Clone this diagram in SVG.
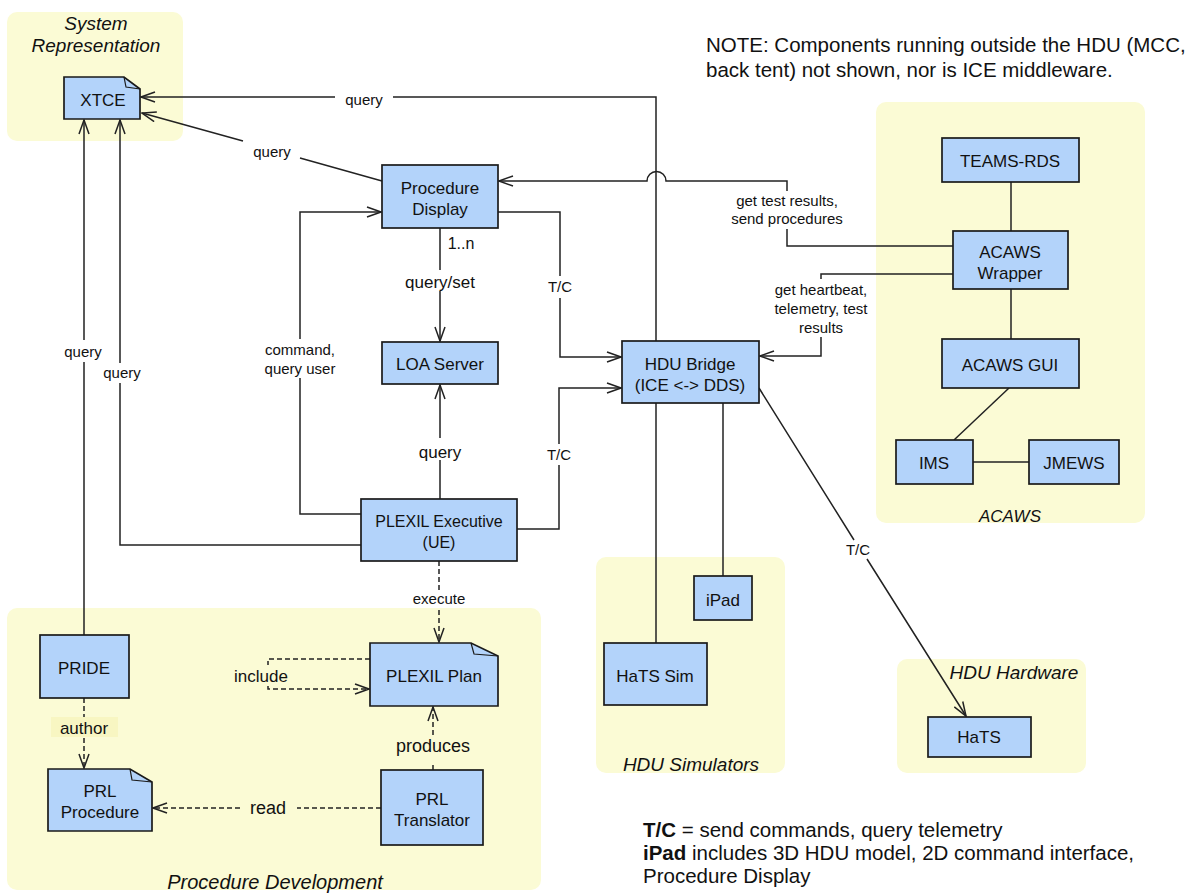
<svg xmlns="http://www.w3.org/2000/svg" width="1190" height="893" viewBox="0 0 1190 893">
<style>
.grp{fill:#fbfbd5}
.node{fill:#b3d3fa;stroke:#1a1a1a;stroke-width:1.7}
.fold{fill:none;stroke:#1a1a1a;stroke-width:1.2}
.t{font-family:"Liberation Sans",Arial,sans-serif;fill:#111;text-anchor:middle}
.n{font-size:17px}
.gl{font-size:19px;font-style:italic}
.l15{font-size:15px}
.l17{font-size:17px}
.l18{font-size:18px}
.note{font-family:"Liberation Sans",Arial,sans-serif;fill:#111;font-size:20.5px}
.c{fill:none;stroke:#222;stroke-width:1.5}
.d{stroke-dasharray:5 3}
</style>
<defs>
<marker id="arr" markerUnits="userSpaceOnUse" viewBox="0 0 16 12" refX="15" refY="6" markerWidth="16" markerHeight="12" orient="auto">
<path d="M1,1 L15,6 L1,11" fill="none" stroke="#222" stroke-width="1.5"/>
</marker>
</defs>

<g id="groups">
<g id="grp-system"><rect class="grp" x="7" y="12" width="176" height="129" rx="10"/>
<text class="t gl" x="96" y="30">System</text><text class="t gl" x="96" y="52">Representation</text></g>
<g id="grp-acaws"><rect class="grp" x="876" y="102" width="269" height="421" rx="10"/>
<text class="t gl" x="1010" y="522" style="font-size:17px">ACAWS</text></g>
<g id="grp-procdev"><rect class="grp" x="7" y="608" width="534" height="282" rx="10"/>
<text class="t gl" x="275" y="889" style="font-size:20px">Procedure Development</text></g>
<g id="grp-sim"><rect class="grp" x="596" y="557" width="189" height="216" rx="10"/>
<text class="t gl" x="691" y="771">HDU Simulators</text></g>
<g id="grp-hw"><rect class="grp" x="897" y="659" width="189" height="114" rx="10"/>
<text class="t gl" x="1014" y="679">HDU Hardware</text></g>
</g>

<g id="connectors">
<path class="c" marker-end="url(#arr)" d="M656,341 V97 H393 M335,97 H141"/>
<text class="t l15" x="364" y="105">query</text>
<path class="c" marker-end="url(#arr)" d="M382,181 L300,158 M243,141 L142,113"/>
<text class="t l15" x="272" y="157">query</text>
<path class="c" marker-end="url(#arr)" d="M84,637 V362 M84,340 V120"/>
<text class="t l15" x="83" y="357">query</text>
<path class="c" marker-end="url(#arr)" d="M361,545 H120 V383 M120,363 V120"/>
<text class="t l15" x="122" y="378">query</text>
<path class="c" marker-end="url(#arr)" d="M361,514 H300 V378 M300,339 V212 H381"/>
<text class="t l15" x="300" y="355">command,</text>
<text class="t l15" x="300" y="374">query user</text>
<path class="c" marker-end="url(#arr)" d="M440,228 V270 M440,291 V341"/>
<text class="t" x="461" y="249" style="font-size:16px">1..n</text>
<text class="t l17" x="440" y="288">query/set</text>
<path class="c" marker-end="url(#arr)" d="M440,499 V460 M440,438 V385"/>
<text class="t l17" x="440" y="458">query</text>
<path class="c" marker-end="url(#arr)" d="M498,212 H560 V276 M560,298 V357 H621"/>
<text class="t l15" x="560" y="292">T/C</text>
<path class="c" marker-end="url(#arr)" d="M517,529 H559 V465 M559,444 V388 H621"/>
<text class="t l15" x="559" y="460">T/C</text>
<path class="c" marker-end="url(#arr)" d="M953,246 H787 V229 M787,191 V181 H666 A9.5,9.5 0 0 0 647,181 H499"/>
<text class="t l15" x="787" y="206">get test results,</text>
<text class="t l15" x="787" y="224">send procedures</text>
<path class="c" marker-end="url(#arr)" d="M953,274 H821 V279 M821,337 V356 H760"/>
<text class="t l15" x="821" y="295">get heartbeat,</text>
<text class="t l15" x="821" y="314">telemetry, test</text>
<text class="t l15" x="821" y="333">results</text>
<path class="c" d="M1011,182 V231"/>
<path class="c" d="M1011,289 V339"/>
<path class="c" d="M1009,388 L954,440"/>
<path class="c" d="M973,462 H1029"/>
<path class="c" d="M656,403 V643"/>
<path class="c" d="M723,403 V576"/>
<path class="c" marker-end="url(#arr)" d="M759,388 L854,540 M867,559 L966,716"/>
<text class="t l15" x="858" y="555">T/C</text>
<path class="c d" marker-end="url(#arr)" d="M439,561 V590 M439,610 V642"/>
<text class="t l15" x="439" y="604">execute</text>
<path class="c d" marker-end="url(#arr)" d="M84,698 V768"/>
<rect x="51" y="717" width="67" height="20" fill="#f8f6c2"/>
<text class="t l17" x="84" y="734">author</text>
<path class="c d" marker-end="url(#arr)" d="M433,770 V762 M433,735 V707"/>
<text class="t l18" x="433" y="752">produces</text>
<path class="c d" marker-end="url(#arr)" d="M370,659 H268 V665 M268,686 V689 H369"/>
<text class="t l17" x="261" y="682">include</text>
<path class="c d" marker-end="url(#arr)" d="M381,808 H297 M240,808 H153"/>
<text class="t l18" x="268" y="814">read</text>
</g>

<g id="node-xtce"><path class="node" d="M64,77 H124 L140,89 V119 H64 Z"/><path class="fold" d="M124,77 L126,87 L140,89"/>
<text class="t n" x="103" y="106">XTCE</text></g>
<g id="node-procdisplay"><rect class="node" x="382" y="165" width="116" height="63"/>
<text class="t n" x="440" y="194">Procedure</text><text class="t n" x="440" y="215">Display</text></g>
<g id="node-loa"><rect class="node" x="382" y="342" width="116" height="42"/>
<text class="t n" x="440" y="370">LOA Server</text></g>
<g id="node-bridge"><rect class="node" x="622" y="341" width="137" height="62"/>
<text class="t n" x="690" y="370">HDU Bridge</text><text class="t n" x="690" y="391">(ICE &lt;-&gt; DDS)</text></g>
<g id="node-plexilexec"><rect class="node" x="361" y="499" width="156" height="62"/>
<text class="t" x="439" y="527" style="font-size:16px">PLEXIL Executive</text><text class="t" x="439" y="548" style="font-size:16px">(UE)</text></g>
<g id="node-teams"><rect class="node" x="942" y="138" width="137" height="44"/>
<text class="t n" x="1010" y="167">TEAMS-RDS</text></g>
<g id="node-wrapper"><rect class="node" x="953" y="231" width="115" height="58"/>
<text class="t n" x="1010" y="258">ACAWS</text><text class="t n" x="1010" y="279">Wrapper</text></g>
<g id="node-acawsgui"><rect class="node" x="942" y="339" width="137" height="49"/>
<text class="t n" x="1010" y="371">ACAWS GUI</text></g>
<g id="node-ims"><rect class="node" x="896" y="440" width="77" height="44"/>
<text class="t n" x="934" y="469">IMS</text></g>
<g id="node-jmews"><rect class="node" x="1029" y="440" width="90" height="44"/>
<text class="t n" x="1074" y="469">JMEWS</text></g>
<g id="node-ipad"><rect class="node" x="694" y="576" width="58" height="44"/>
<text class="t n" x="723" y="606">iPad</text></g>
<g id="node-hatssim"><rect class="node" x="604" y="643" width="103" height="62"/>
<text class="t n" x="655" y="682">HaTS Sim</text></g>
<g id="node-hats"><rect class="node" x="928" y="717" width="103" height="40"/>
<text class="t n" x="979" y="743">HaTS</text></g>
<g id="node-pride"><rect class="node" x="40" y="635" width="89" height="63"/>
<text class="t n" x="84" y="674">PRIDE</text></g>
<g id="node-prlproc"><path class="node" d="M48,769 H130 L152,782 V831 H48 Z"/><path class="fold" d="M130,769 L132,780 L152,782"/>
<text class="t n" x="100" y="797">PRL</text><text class="t n" x="100" y="818">Procedure</text></g>
<g id="node-plexilplan"><path class="node" d="M370,643 H471 L498,656 V706 H370 Z"/><path class="fold" d="M471,643 L474,654 L498,656"/>
<text class="t n" x="434" y="682">PLEXIL Plan</text></g>
<g id="node-prltrans"><rect class="node" x="381" y="770" width="102" height="75"/>
<text class="t n" x="432" y="805">PRL</text><text class="t n" x="432" y="826">Translator</text></g>

<g id="notes">
<text class="note" x="706" y="52">NOTE: Components running outside the HDU (MCC,</text>
<text class="note" x="706" y="77">back tent) not shown, nor is ICE middleware.</text>
<text class="note" x="643" y="837"><tspan font-weight="bold">T/C</tspan> = send commands, query telemetry</text>
<text class="note" x="643" y="860"><tspan font-weight="bold">iPad</tspan> includes 3D HDU model, 2D command interface,</text>
<text class="note" x="643" y="883">Procedure Display</text>
</g>
</svg>
